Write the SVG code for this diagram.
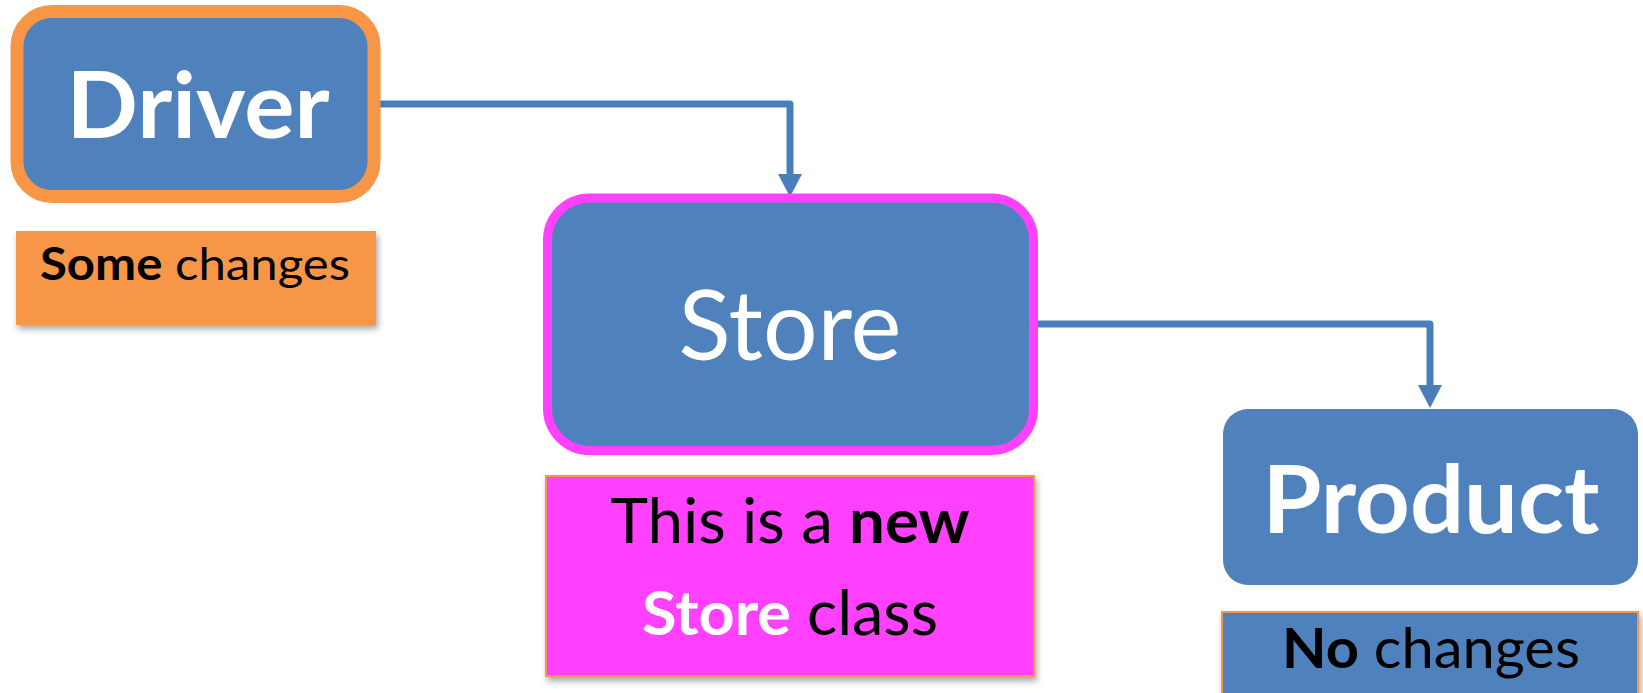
<svg xmlns="http://www.w3.org/2000/svg" width="1643" height="693" viewBox="0 0 1643 693">
<style>
.box{fill:#4F81BD}
.lbl{stroke:#F79646;stroke-width:2}
.w{fill:#fff;font-family:Lato,"Liberation Sans",Arial,sans-serif}
.k{fill:#000;font-family:Lato,"Liberation Sans",Arial,sans-serif}
.b{font-weight:bold}
.conn{fill:none;stroke:#4A7EBB;stroke-width:7;stroke-linejoin:round}
</style>
<defs>
<filter id="sh" x="-10%" y="-10%" width="125%" height="130%">
<feDropShadow dx="2" dy="4" stdDeviation="3" flood-color="#000" flood-opacity="0.35"/>
</filter>
</defs>
<g id="connectors">
<path class="conn" d="M375,104 H790 V176"/>
<path class="conn" d="M1038,324 H1430 V387"/>
<path d="M778,174 L802,174 L790,197 Z" fill="#4A7EBB"/>
<path d="M1418,385 L1442,385 L1430,408 Z" fill="#4A7EBB"/>
</g>
<g id="driver">
<rect class="box" x="17" y="11.5" width="357" height="185" rx="35" stroke="#F79646" stroke-width="13"/>
<text class="w b" x="198" y="138" font-size="91" text-anchor="middle" textLength="263" lengthAdjust="spacingAndGlyphs">Driver</text>
</g>
<g id="driver-label">
<rect x="16" y="231" width="360" height="94" fill="#F79646" filter="url(#sh)"/>
<text class="k" x="195" y="280" font-size="45" text-anchor="middle" textLength="310" lengthAdjust="spacingAndGlyphs"><tspan class="b">Some</tspan> changes</text>
</g>
<g id="store">
<rect class="box" x="547.5" y="198" width="486" height="252.5" rx="42" stroke="#FF40FF" stroke-width="9"/>
<text class="w" x="790" y="360" font-size="96" text-anchor="middle" textLength="223" lengthAdjust="spacingAndGlyphs">Store</text>
</g>
<g id="store-label">
<rect class="lbl" x="546" y="476" width="488" height="200" fill="#FF40FF" filter="url(#sh)"/>
<text class="k" x="790" y="543" font-size="61" text-anchor="middle" textLength="359" lengthAdjust="spacingAndGlyphs">This is a <tspan class="b">new</tspan></text>
<text class="k" x="790" y="635" font-size="61" text-anchor="middle" textLength="296" lengthAdjust="spacingAndGlyphs"><tspan class="b" fill="#fff">Store</tspan> class</text>
</g>
<g id="product">
<rect class="box" x="1223" y="409" width="415" height="176" rx="25"/>
<text class="w b" x="1431" y="533" font-size="94" text-anchor="middle" textLength="337" lengthAdjust="spacingAndGlyphs">Product</text>
</g>
<g id="product-label">
<rect class="lbl box" x="1222" y="612" width="416" height="100" filter="url(#sh)"/>
<text class="k" x="1431" y="668" font-size="56" text-anchor="middle" textLength="298" lengthAdjust="spacingAndGlyphs"><tspan class="b">No</tspan> changes</text>
</g>
</svg>
